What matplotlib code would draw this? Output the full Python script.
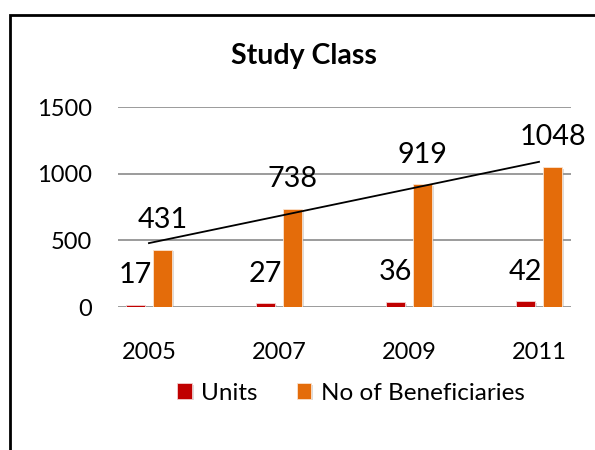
import matplotlib
matplotlib.use("Agg")
import matplotlib.pyplot as plt
import matplotlib.patheffects as pe
from matplotlib.patches import Rectangle
import numpy as np

categories = ["2005", "2007", "2009", "2011"]
units = [17, 27, 36, 42]
beneficiaries = [431, 738, 919, 1048]
yticks = [0, 500, 1000, 1500]
title = "Study Class"

plt.rcParams['font.family'] = ['Lato', 'DejaVu Sans']

W, H = 595, 450
fig = plt.figure(figsize=(W / 100, H / 100), dpi=100)

# outer border (right/bottom edges extend past the image)
fig.patches.append(Rectangle((9.5 / W, -0.1), 1.2, 1 - 14.5 / H + 0.1,
                             transform=fig.transFigure, fill=False,
                             edgecolor='black', linewidth=2.0, zorder=10))

ax = fig.add_axes([118 / W, 1 - 307 / H, (571 - 118) / W, (307 - 107) / H])
x = np.arange(len(categories))
bw = 0.146
off = 0.104

shadow = [pe.SimplePatchShadow(offset=(1.5, -1), shadow_rgbFace='#9a9a9a', alpha=0.35), pe.Normal()]
b1 = ax.bar(x - off, units, bw, color='#C00000', edgecolor='#f4d0d0', linewidth=0.6,
            label='Units', zorder=3, path_effects=shadow)
b2 = ax.bar(x + off, beneficiaries, bw, color='#E46C0A', edgecolor='#fbe3cf', linewidth=0.6,
            label='No of Beneficiaries', zorder=3, path_effects=shadow)

# linear trendline on beneficiaries
coef = np.polyfit(x, beneficiaries, 1)
ax.plot([x[0], x[-1]], np.polyval(coef, [x[0], x[-1]]), color='black', lw=1.3, zorder=4)

for xi, v in zip(x - off, units):
    ax.annotate(str(v), (xi, v), xytext=(0, 21.5), textcoords='offset points',
                ha='center', va='center', fontsize=20.7, zorder=5)
for xi, v in zip(x + off, beneficiaries):
    ax.annotate(str(v), (xi, v), xytext=(0, 21.5), textcoords='offset points',
                ha='center', va='center', fontsize=20.7, zorder=5)

ax.set_xlim(-0.238, 3.246)
ax.set_ylim(0, 1500)
ax.set_yticks(yticks)
ax.set_xticks(x)
ax.set_xticklabels(categories)
for s in ax.spines.values():
    s.set_visible(False)
ax.grid(axis='y', color='#8a8a8a', linewidth=1.2, zorder=0)
ax.set_axisbelow(True)
ax.tick_params(axis='both', length=0, labelsize=17)
ax.tick_params(axis='y', pad=18.5)
ax.tick_params(axis='x', pad=25)

fig.text(304 / W, 1 - 56 / H, title, fontsize=20.5, fontweight='bold',
         ha='center', va='center')

leg = fig.legend(handles=[b1, b2], labels=['Units', 'No of Beneficiaries'],
                 loc='center', bbox_to_anchor=(351 / W, 1 - 393 / H), ncol=2,
                 frameon=False, fontsize=17.5, handlelength=0.6, handleheight=0.6,
                 handletextpad=0.4, columnspacing=1.6)

fig.savefig("out.png", dpi=100)
